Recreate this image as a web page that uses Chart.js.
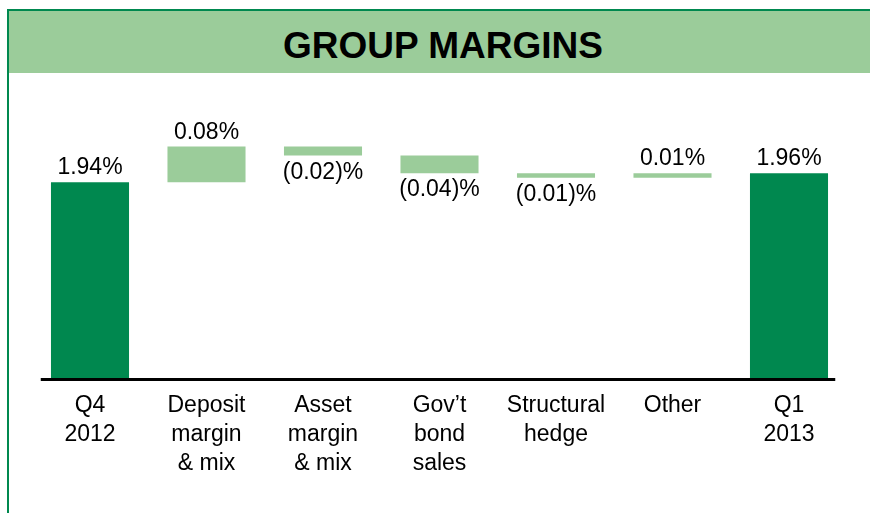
<!DOCTYPE html>
<html>
<head>
<meta charset="utf-8">
<script src="https://cdn.jsdelivr.net/npm/chart.js@4.4.0/dist/chart.umd.min.js"></script>
<style>
  html, body { margin: 0; padding: 0; background: #fff; overflow: hidden; }
  body { width: 870px; height: 513px; position: relative; font-family: "Liberation Sans", Arial, sans-serif; }
  .frame { position: absolute; left: 7px; top: 9px; width: 1000px; height: 1000px; border: 2px solid #00884f; }
  .banner { position: absolute; left: 0; top: 0; width: 868px; height: 62px; background: #9bcc9a; }
  .banner h1 { position: absolute; left: 0; right: 0; top: 16px; margin: 0; text-align: center;
    font-size: 37px; line-height: 37px; font-weight: bold; color: #000; }
  canvas { position: absolute; left: 0; top: 0; }
</style>
</head>
<body>
<div class="frame"><div class="banner"><h1>GROUP MARGINS</h1></div></div>
<canvas id="myChart" width="870" height="513"></canvas>
<script>
const categories = [
  ['Q4', '2012'],
  ['Deposit', 'margin', '& mix'],
  ['Asset', 'margin', '& mix'],
  ['Gov\u2019t', 'bond', 'sales'],
  ['Structural', 'hedge'],
  ['Other'],
  ['Q1', '2013'],
];
const startValue = 1.94;
const changes = [0.08, -0.02, -0.04, -0.01, 0.01];
const endValue = 1.96;
const axisMin = 1.5;
const axisMax = 2.1;

const darkGreen = '#00884f';
const lightGreen = '#9bcc9a';

// waterfall: totals sit on the axis, changes float from the running level
const bars = [[axisMin, startValue]];
const labels = [startValue.toFixed(2) + '%'];
const colors = [darkGreen];
let level = startValue;
for (const d of changes) {
  const next = Math.round((level + d) * 100) / 100;
  bars.push([level, next]);
  labels.push(d >= 0 ? d.toFixed(2) + '%' : '(' + Math.abs(d).toFixed(2) + ')%');
  colors.push(lightGreen);
  level = next;
}
bars.push([axisMin, endValue]);
labels.push(endValue.toFixed(2) + '%');
colors.push(darkGreen);

const valueLabels = {
  id: 'valueLabels',
  afterDatasetsDraw(chart) {
    const ctx = chart.ctx;
    const meta = chart.getDatasetMeta(0);
    ctx.save();
    ctx.font = '23px "Liberation Sans", Arial, sans-serif';
    ctx.fillStyle = '#000';
    ctx.textAlign = 'center';
    ctx.textBaseline = 'alphabetic';
    meta.data.forEach((bar, i) => {
      const [a, b] = bars[i];
      const top = Math.min(bar.y, bar.base);
      const bottom = Math.max(bar.y, bar.base);
      if (b >= a) {
        ctx.fillText(labels[i], bar.x, top - 8);
      } else {
        ctx.fillText(labels[i], bar.x, bottom + 23);
      }
    });
    ctx.restore();
  },
};

const baseLine = {
  id: 'baseLine',
  afterDatasetsDraw(chart) {
    const ctx = chart.ctx;
    const y = chart.scales.y.getPixelForValue(axisMin) + 1.5;
    ctx.save();
    ctx.strokeStyle = '#000';
    ctx.lineWidth = 3;
    ctx.beginPath();
    ctx.moveTo(chart.chartArea.left + 9, y);
    ctx.lineTo(chart.chartArea.right - 12, y);
    ctx.stroke();
    ctx.restore();
  },
};

const ctx = document.getElementById('myChart');
new Chart(ctx, {
  type: 'bar',
  data: {
    labels: categories,
    datasets: [
      {
        data: bars,
        backgroundColor: colors,
        borderWidth: 0,
        categoryPercentage: 1,
        barPercentage: 0.67,
      },
    ],
  },
  options: {
    responsive: false,
    animation: false,
    devicePixelRatio: 1,
    layout: { padding: { top: 111, left: 31.75, right: 22.75, bottom: 0 } },
    plugins: { legend: { display: false }, tooltip: { enabled: false } },
    scales: {
      x: {
        grid: { display: false, drawTicks: false },
        border: { display: false },
        ticks: {
          color: '#000',
          padding: 13,
          maxRotation: 0,
          autoSkip: false,
          font: { family: '"Liberation Sans", Arial, sans-serif', size: 23, lineHeight: 1.26 },
        },
        afterFit: (scale) => { scale.height = 135; },
      },
      y: {
        display: false,
        min: axisMin,
        max: axisMax,
      },
    },
  },
  plugins: [valueLabels, baseLine],
});
</script>
</body>
</html>
